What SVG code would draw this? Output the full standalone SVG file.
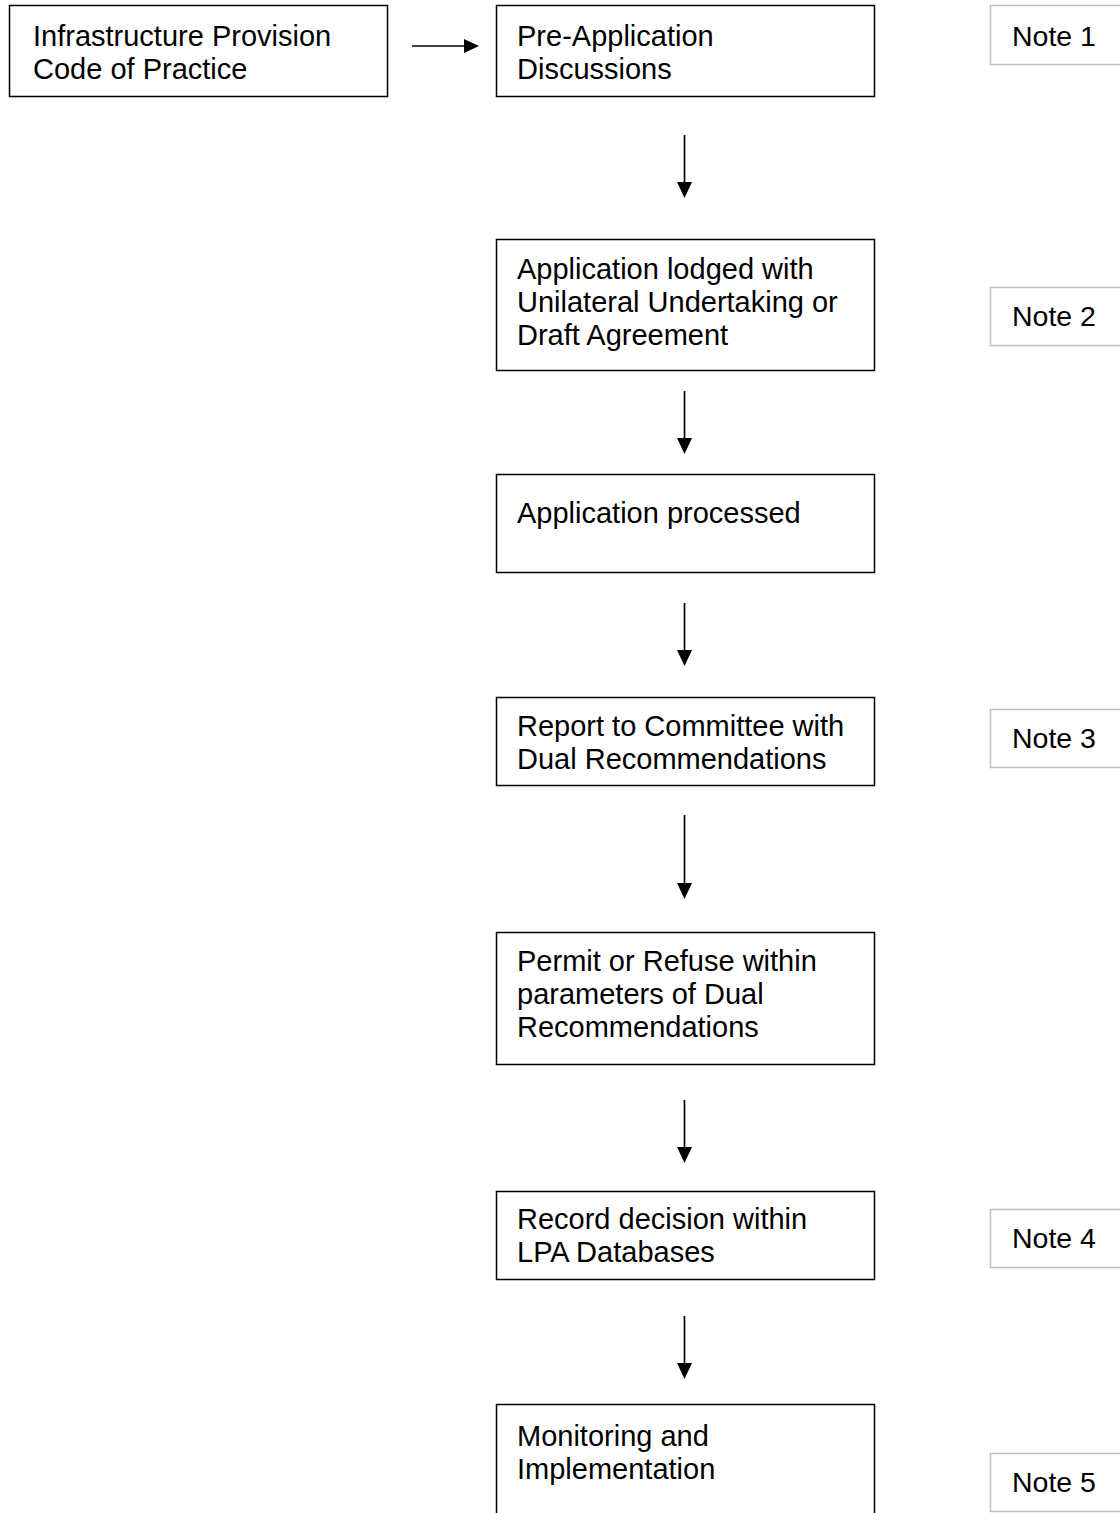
<svg xmlns="http://www.w3.org/2000/svg" width="1120" height="1513" viewBox="0 0 1120 1513">
<style>
.box{fill:#fff;stroke:#000;stroke-width:1.5}
.note{fill:#fff;stroke:#c0c0c0;stroke-width:1.5}
text{font-family:"Liberation Sans",Arial,sans-serif;font-size:29px;fill:#000}
.note + text, text.nt{font-size:28.5px}
.conn line{stroke:#000;stroke-width:1.7}
.conn polygon{fill:#000}
</style>
<rect width="1120" height="1513" fill="#fff"/>
<g id="n1"><rect class="box" x="9.5" y="5.5" width="378" height="91"/><text x="33" y="46">Infrastructure Provision</text><text x="33" y="79">Code of Practice</text></g>
<g id="n2"><rect class="box" x="496.5" y="5.5" width="378" height="91"/><text x="517" y="46">Pre-Application</text><text x="517" y="79">Discussions</text></g>
<g id="note1"><rect class="note" x="990.5" y="5.5" width="140" height="59"/><text class="nt" x="1012" y="46">Note 1</text></g>
<g id="n3"><rect class="box" x="496.5" y="239.5" width="378" height="131"/><text x="517" y="279">Application lodged with</text><text x="517" y="312">Unilateral Undertaking or</text><text x="517" y="345">Draft Agreement</text></g>
<g id="note2"><rect class="note" x="990.5" y="287.5" width="140" height="58"/><text class="nt" x="1012" y="326">Note 2</text></g>
<g id="n4"><rect class="box" x="496.5" y="474.5" width="378" height="98"/><text x="517" y="523">Application processed</text></g>
<g id="n5"><rect class="box" x="496.5" y="697.5" width="378" height="88"/><text x="517" y="736">Report to Committee with</text><text x="517" y="769">Dual Recommendations</text></g>
<g id="note3"><rect class="note" x="990.5" y="709.5" width="140" height="58"/><text class="nt" x="1012" y="748">Note 3</text></g>
<g id="n6"><rect class="box" x="496.5" y="932.5" width="378" height="132"/><text x="517" y="971">Permit or Refuse within</text><text x="517" y="1004">parameters of Dual</text><text x="517" y="1037">Recommendations</text></g>
<g id="n7"><rect class="box" x="496.5" y="1191.5" width="378" height="88"/><text x="517" y="1229">Record decision within</text><text x="517" y="1262">LPA Databases</text></g>
<g id="note4"><rect class="note" x="990.5" y="1209.5" width="140" height="58"/><text class="nt" x="1012" y="1248">Note 4</text></g>
<g id="n8"><rect class="box" x="496.5" y="1404.5" width="378" height="130"/><text x="517" y="1446">Monitoring and</text><text x="517" y="1479">Implementation</text></g>
<g id="note5"><rect class="note" x="990.5" y="1453.5" width="140" height="58"/><text class="nt" x="1012" y="1492">Note 5</text></g>
<g class="conn" id="connectors">
<line x1="412" y1="46" x2="466" y2="46"/><polygon points="464,39 479,46 464,53"/>
<line x1="684.5" y1="135" x2="684.5" y2="184"/><polygon points="677,182 692,182 684.5,198"/>
<line x1="684.5" y1="391" x2="684.5" y2="440"/><polygon points="677,438 692,438 684.5,454"/>
<line x1="684.5" y1="603" x2="684.5" y2="652"/><polygon points="677,650 692,650 684.5,666"/>
<line x1="684.5" y1="815" x2="684.5" y2="885"/><polygon points="677,883 692,883 684.5,899"/>
<line x1="684.5" y1="1100" x2="684.5" y2="1149"/><polygon points="677,1147 692,1147 684.5,1163"/>
<line x1="684.5" y1="1316" x2="684.5" y2="1365"/><polygon points="677,1363 692,1363 684.5,1379"/>
</g>
</svg>
